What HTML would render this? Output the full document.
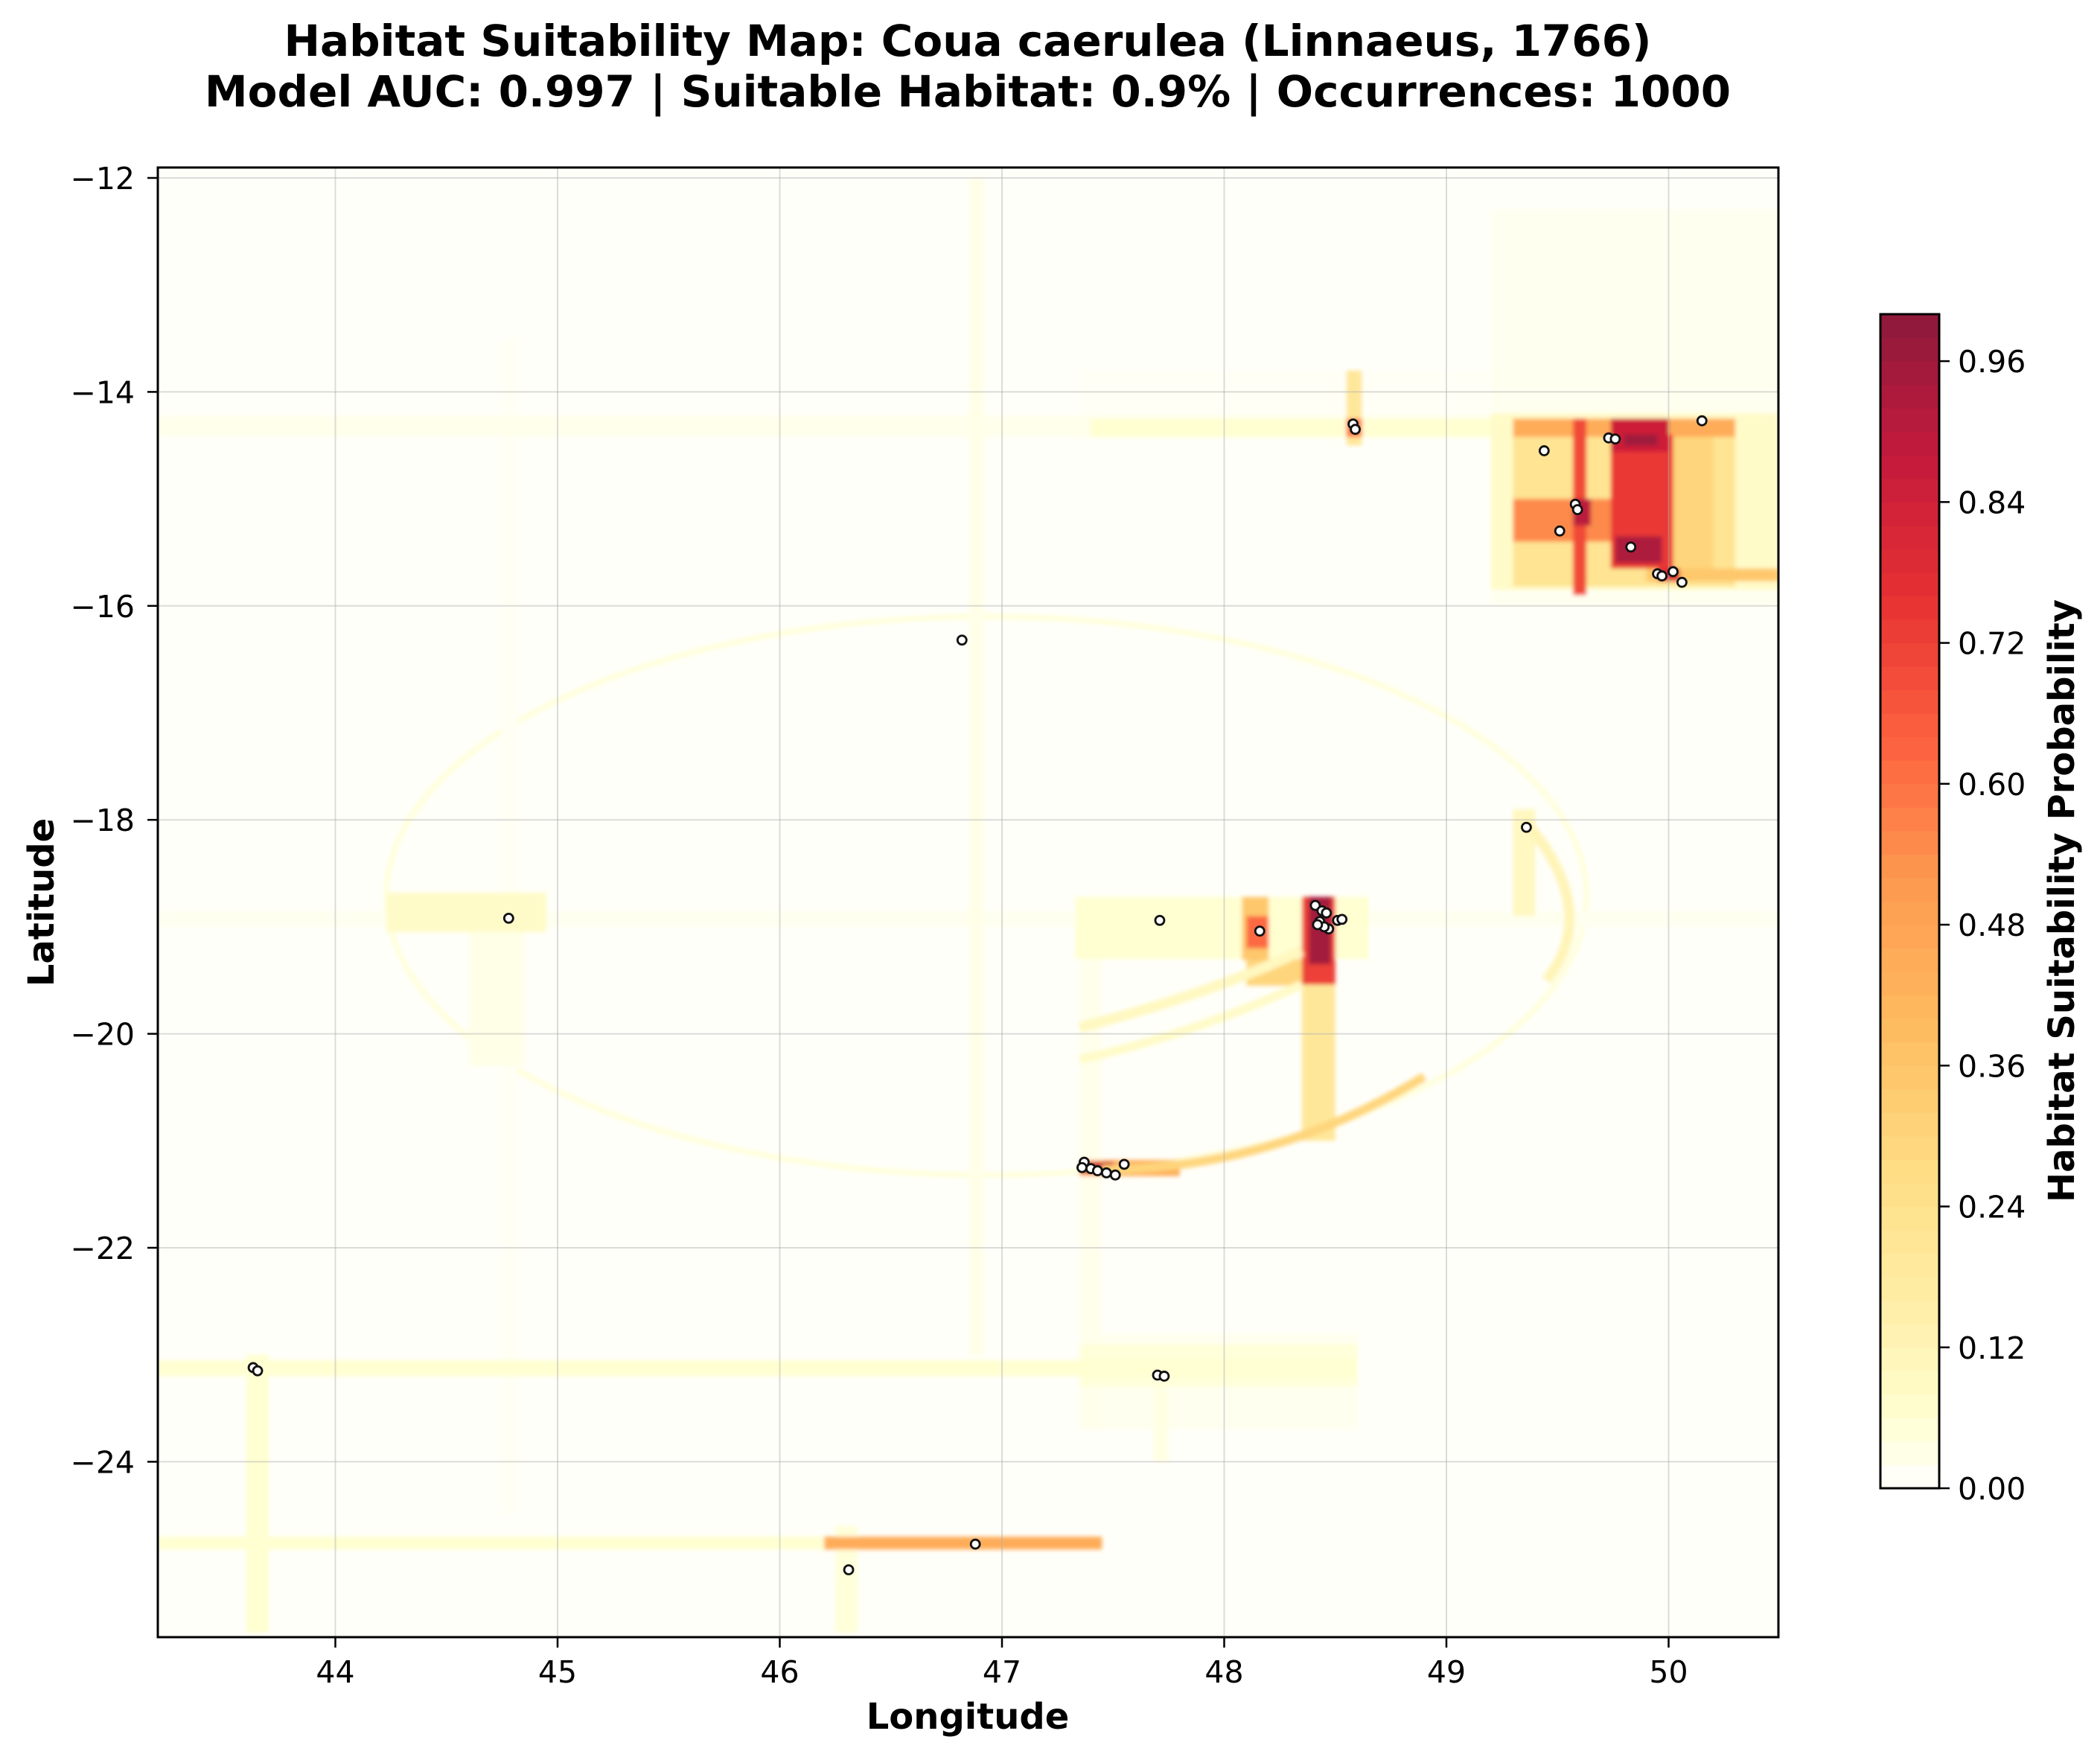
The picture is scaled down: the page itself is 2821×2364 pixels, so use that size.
<!DOCTYPE html>
<html><head><meta charset="utf-8"><style>
html,body{margin:0;padding:0;background:#fff;}
svg{display:block;font-family:"DejaVu Sans","Liberation Sans",sans-serif;}
</style></head><body>
<svg id="chart" width="2821" height="2364" viewBox="0 0 2821 2364" xmlns="http://www.w3.org/2000/svg">
<defs>
<clipPath id="plotclip"><rect x="212" y="225" width="2177" height="1974"/></clipPath>
<filter id="soft" x="-5%" y="-5%" width="110%" height="110%"><feGaussianBlur stdDeviation="3"/></filter>
</defs>
<text x="1300" y="75" text-anchor="middle" font-size="58" font-weight="bold">Habitat Suitability Map: Coua caerulea (Linnaeus, 1766)</text>
<text x="1300" y="143" text-anchor="middle" font-size="58" font-weight="bold">Model AUC: 0.997 | Suitable Habitat: 0.9% | Occurrences: 1000</text>
<rect x="212" y="225" width="2177" height="1974" fill="#fffffa"/>
<g id="heat" clip-path="url(#plotclip)"><g id="heatinner" filter="url(#soft)"></g></g>
<g id="grid"></g>
<g id="points" clip-path="url(#plotclip)"></g>
<rect x="212" y="225" width="2177" height="1974" fill="none" stroke="#000" stroke-width="3"/>
<g id="axes"></g>
<text x="1300" y="2322" text-anchor="middle" font-size="48" font-weight="bold">Longitude</text>
<text x="72" y="1212" text-anchor="middle" font-size="48" font-weight="bold" transform="rotate(-90 72 1212)">Latitude</text>
<g id="cbar"></g>
<text x="2786" y="1210" text-anchor="middle" font-size="48" font-weight="bold" transform="rotate(-90 2786 1210)">Habitat Suitability Probability</text>
</svg>
<script>
// axis tick data
const xTicks = [44, 45, 46, 47, 48, 49, 50];
const yTicks = [-12, -14, -16, -18, -20, -22, -24];
const cbarTicks = [0.00, 0.12, 0.24, 0.36, 0.48, 0.60, 0.72, 0.84, 0.96];
// heatmap patches: lon0, lon1, latTop, latBottom, value
const patchLon0 = [43.2,49.2,47.35,47.4,46.85,44.75,43.2,44.23,44.6,47.33,48.35,43.2,47.35,47.35,43.2,46.2,43.6,46.25,47.35,47.68,49.3,48.55,48.55,47.35,47.35,48.08,48.1,48.1,48.35,48.38,49.2,49.3,49.3,49.3,49.57,49.57,49.74,50.0,49.74,49.8,49.76,49.9,49.95];
const patchLon1 = [50.5,50.5,49.3,49.3,46.92,44.82,50.5,44.95,44.85,48.65,48.5,48.6,48.6,48.6,47.45,47.45,43.7,46.35,47.45,47.75,49.4,48.62,48.62,47.8,47.5,48.2,48.2,48.35,48.5,48.48,50.5,50.3,50.3,49.74,49.63,49.65,50.02,50.2,50.0,49.95,49.97,50.5,50.05];
const patchLat0 = [-14.22,-12.3,-13.8,-14.25,-12.0,-13.5,-18.85,-18.68,-18.7,-18.72,-19.3,-23.05,-22.8,-22.9,-24.7,-24.7,-23.0,-24.6,-19.0,-23.2,-17.9,-13.8,-14.25,-21.18,-21.2,-18.72,-18.9,-19.3,-18.72,-18.72,-14.2,-14.25,-14.25,-15.0,-14.25,-15.0,-14.4,-14.25,-14.25,-14.4,-15.35,-15.65,-15.65];
const patchLat1 = [-14.42,-16.0,-14.45,-14.42,-23.0,-24.5,-19.0,-19.05,-20.3,-19.3,-21.0,-23.2,-23.7,-23.3,-24.82,-24.82,-25.6,-25.6,-23.7,-24.0,-18.9,-14.5,-14.42,-21.33,-21.3,-19.31,-19.2,-19.55,-19.54,-19.35,-15.85,-15.82,-14.42,-15.4,-15.9,-15.25,-15.65,-15.65,-14.56,-14.5,-15.6,-15.77,-15.77];
const patchVal = [0.025,0.02,0.012,0.06,0.03,0.015,0.02,0.08,0.03,0.06,0.2,0.06,0.02,0.05,0.06,0.45,0.06,0.05,0.025,0.035,0.1,0.2,0.6,0.45,0.88,0.35,0.62,0.3,0.72,0.95,0.08,0.22,0.45,0.55,0.7,0.9,0.74,0.3,0.85,0.96,0.93,0.35,0.8];
// curved suitability bands: start, mid, end (lon/lat), value, width
const arcLon = [[47.35,47.9,48.35],[47.35,47.85,48.35],[47.45,48.2,48.9],[49.35,49.55,49.45]];
const arcLat = [[-19.94,-19.6,-19.22],[-20.24,-19.95,-19.54],[-21.27,-21.05,-20.4],[-18.0,-18.8,-19.5]];
const arcVal = [0.1,0.08,0.3,0.12];
const arcW = [14,12,12,14];
// faint elliptical band (center lon, lat, radii in degrees)
const ellCenter = [46.93, -18.71];
const ellRadii = [2.7, 2.61];
const ellVal = 0.05;
// occurrence records
const occLon = [48.58,48.59,50.15,49.44,49.73,49.76,49.58,49.59,49.51,49.83,49.95,49.97,50.02,50.06,46.82,49.36,44.78,47.71,48.16,48.41,48.44,48.46,48.43,48.51,48.53,48.47,48.45,48.42,47.37,47.36,47.40,47.43,47.47,47.51,47.55,43.63,43.65,47.70,47.73,46.88,46.31];
const occLat = [-14.30,-14.35,-14.27,-14.55,-14.43,-14.44,-15.05,-15.10,-15.30,-15.45,-15.70,-15.72,-15.68,-15.78,-16.32,-18.07,-18.92,-18.94,-19.04,-18.80,-18.85,-18.87,-18.95,-18.94,-18.93,-19.02,-19.00,-18.98,-21.20,-21.25,-21.26,-21.28,-21.30,-21.32,-21.22,-23.12,-23.15,-23.19,-23.20,-24.77,-25.01];

const NS = 'http://www.w3.org/2000/svg';
const X = lon => 450.5 + (lon - 44) * 298.5;
const Y = lat => 239 + (-12 - lat) * 143.7;
const stops = [[0,[255,255,255]],[0.06,[255,255,204]],[0.15,[255,237,160]],[0.27,[254,217,118]],[0.4,[254,178,76]],[0.52,[253,141,60]],[0.64,[252,78,42]],[0.76,[227,26,28]],[0.88,[189,0,38]],[1,[128,0,38]]];
function cmap(v){
  v=Math.max(0,Math.min(1,v));
  let i=0; while(i<stops.length-2 && v>stops[i+1][0]) i++;
  const a=stops[i],b=stops[i+1],t=(v-a[0])/(b[0]-a[0]);
  const c=a[1].map((x,k)=>Math.round((x+(b[1][k]-x)*t)*0.9+25.5));
  return 'rgb('+c.join(',')+')';
}
function mk(tag, attrs, parent){
  const e=document.createElementNS(NS,tag);
  for(const k in attrs) e.setAttribute(k,attrs[k]);
  parent.appendChild(e); return e;
}
const heat=document.getElementById('heatinner');
const ell=mk('ellipse',{cx:X(ellCenter[0]),cy:Y(ellCenter[1]),rx:ellRadii[0]*298.5,ry:ellRadii[1]*143.7,fill:'none',stroke:cmap(ellVal),'stroke-width':7},heat);


const order=patchVal.map((v,i)=>i).sort((a,b)=>patchVal[a]-patchVal[b]);
order.forEach(i=>{
  const x0=X(patchLon0[i]),x1=X(patchLon1[i]),y0=Y(patchLat0[i]),y1=Y(patchLat1[i]);
  const r=mk('rect',{x:Math.min(x0,x1),y:Math.min(y0,y1),width:Math.abs(x1-x0),height:Math.abs(y1-y0),fill:cmap(patchVal[i])},heat);
  
  
});
arcLon.forEach((L,i)=>{
  const La=arcLat[i];
  const p0=[X(L[0]),Y(La[0])],pm=[X(L[1]),Y(La[1])],p2=[X(L[2]),Y(La[2])];
  const c=[2*pm[0]-(p0[0]+p2[0])/2,2*pm[1]-(p0[1]+p2[1])/2];
  const p=mk('path',{d:`M${p0[0]},${p0[1]} Q${c[0]},${c[1]} ${p2[0]},${p2[1]}`,fill:'none',stroke:cmap(arcVal[i]),'stroke-width':arcW[i]},heat);
  
  
});
const grid=document.getElementById('grid');
xTicks.forEach(t=>{
  const l=mk('line',{x1:X(t),x2:X(t),y1:225,y2:2199,stroke:'#b0b0b0','stroke-opacity':0.45,'stroke-width':2},grid);
  
  
});
yTicks.forEach(t=>{
  const l=mk('line',{x1:212,x2:2389,y1:Y(t),y2:Y(t),stroke:'#b0b0b0','stroke-opacity':0.45,'stroke-width':2},grid);
  
  
});
const pts=document.getElementById('points');
occLon.forEach((lon,i)=>{
  const c=mk('circle',{cx:X(lon),cy:Y(occLat[i]),r:6,fill:'#fff',stroke:'#111','stroke-width':2.8},pts);
  
  
});
const ax=document.getElementById('axes');
xTicks.forEach(t=>{
  const l=mk('line',{x1:X(t),x2:X(t),y1:2199,y2:2213,stroke:'#000','stroke-width':2.5},ax);
  
  
  const tx=mk('text',{x:X(t),y:2260,'text-anchor':'middle','font-size':41},ax);
  tx.textContent=String(t);
  
  
});
yTicks.forEach(t=>{
  const l=mk('line',{x1:198,x2:212,y1:Y(t),y2:Y(t),stroke:'#000','stroke-width':2.5},ax);
  
  
  const tx=mk('text',{x:181,y:Y(t)+15,'text-anchor':'end','font-size':41},ax);
  tx.textContent='\u2212'+Math.abs(t);
  
  
});
const cb=document.getElementById('cbar');
const CB=v=>1999-v*1577;
for(let v=0; v<1.0001-0.02; v+=0.02){
  const r=mk('rect',{x:2526,y:CB(v+0.02)-0.5,width:79,height:1577*0.02+1,fill:cmap(v+0.01)},cb);
  
  
}
const fr=mk('rect',{x:2526,y:422,width:79,height:1577,fill:'none',stroke:'#000','stroke-width':3},cb);


cbarTicks.forEach(t=>{
  const l=mk('line',{x1:2605,x2:2619,y1:CB(t),y2:CB(t),stroke:'#000','stroke-width':2.5},cb);
  
  
  const tx=mk('text',{x:2630,y:CB(t)+15,'font-size':41},cb);
  tx.textContent=t.toFixed(2);
  
  
});
</script>
</body></html>
